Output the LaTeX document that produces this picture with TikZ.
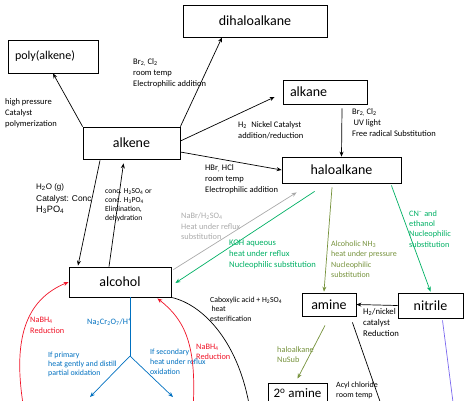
\documentclass[tikz,border=0pt]{standalone}
\usepackage{fontspec}
\setmainfont{Carlito}
\newfontfamily\arialfont{Liberation Sans}
\usetikzlibrary{arrows.meta,calc}
\definecolor{rxngreen}{RGB}{0,176,100}
\definecolor{rxnolive}{RGB}{118,146,60}
\definecolor{rxngrey}{RGB}{170,170,170}
\definecolor{rxnred}{RGB}{240,20,40}
\definecolor{rxnblue}{RGB}{0,112,192}
\definecolor{rxnpurple}{RGB}{123,104,238}
\tikzset{
  box/.style={draw, line width=0.8pt, inner sep=0pt, font=\fontsize{14}{16}\selectfont},
  lbl/.style={anchor=north west, inner sep=0pt, align=left, font=\fontsize{8.5}{11}\selectfont},
  link/.style={line width=0.7pt},
  conn/.style={link, -{Stealth[length=5pt,width=4pt]}}
}
\begin{document}
\begin{tikzpicture}[x=1pt,y=-1pt]
  \useasboundingbox (0,0) rectangle (474,400);
  \clip (0,0) rectangle (474,400);
  % compounds
  \draw
    (53,56.5) node[box, minimum width=90pt, minimum height=33pt, text width=76pt, inner xsep=7pt, align=left, font=\fontsize{12}{14}\selectfont] (poly){poly(alkene)}
    (255,21) node[box, minimum width=144pt, minimum height=32pt] (dihalo){dihaloalkane}
    (325,92) node[box, minimum width=84pt, minimum height=24pt, text width=70pt, inner xsep=7pt, align=left] (alkane){alkane}
    (131.5,143) node[box, minimum width=97pt, minimum height=32pt] (alkene){alkene}
    (341.5,170) node[box, minimum width=119pt, minimum height=26pt] (halo){haloalkane}
    (120,282) node[box, minimum width=102pt, minimum height=30pt] (alcohol){alcohol}
    (329,304.5) node[box, minimum width=54pt, minimum height=23pt] (amine){amine}
    (430.5,305.5) node[box, minimum width=65pt, minimum height=25pt] (nitrile){nitrile}
    (297.5,393) node[box, minimum width=59pt, minimum height=20pt, font=\fontsize{13}{15}\selectfont] (amine2){2\textsuperscript{o} amine};
  % free ends
  \coordinate (acylend) at (383,410);
  \coordinate (purpend) at (454,410);
  \coordinate (esterend) at (250,410);
  \coordinate (redleft) at (24,410);
  \coordinate (redright) at (193,410);
  \coordinate (fork) at (130,356);
  \coordinate (aldehyde) at (90,397);
  \coordinate (ketone) at (173,397);
  % conditions
  \node[lbl] (lpoly) at (5,98) {high pressure\\Catalyst\\polymerization};
  \node[lbl] (ldihalo) at (133,58.5) {Br\textsubscript{2,} Cl\textsubscript{2}\\room temp\\Electrophilic addition};
  \node[lbl, font=\fontsize{8.5}{10.5}\selectfont] (lalkane) at (238,121.5) {H\textsubscript{2}\enspace Nickel Catalyst\\addition/reduction};
  \node[lbl] (luv) at (352,108.5) {Br\textsubscript{2,} Cl\textsubscript{2}\\\,UV light\\Free radical Substitution};
  \node[lbl] (lhbr) at (205,164.5) {HBr\textsubscript{,} HCl\\room temp\\Electrophilic addition};
  \node[lbl, font=\arialfont\fontsize{8}{11.5}\selectfont] (lhydr) at (36,183.5) {H\textsubscript{2}O (g)\\{\fontsize{8.4}{11.5}\selectfont Catalyst: Conc}\\{\fontsize{9.2}{11.5}\selectfont H\textsubscript{3}PO\textsubscript{4}}};
  \node[lbl, font=\fontsize{7.6}{9.2}\selectfont] (ldehyd) at (105,188) {conc. H\textsubscript{2}SO\textsubscript{4} or\\conc. H\textsubscript{3}PO\textsubscript{4}\\Elimination,\\dehydration};
  \node[lbl, text=rxngrey, font=\fontsize{8.3}{10.6}\selectfont] (lnabr) at (181,212.5) {NaBr/H\textsubscript{2}SO\textsubscript{4}\\Heat under reflux\\substitution};
  \node[lbl, text=rxngreen, font=\fontsize{8.6}{11}\selectfont] (lkoh) at (229,239.5) {KOH aqueous\\heat under reflux\\Nucleophilic substitution};
  \node[lbl, text=rxnolive, font=\fontsize{8}{10.4}\selectfont] (lnh3) at (331,240.5) {Alcoholic NH\textsubscript{3}\\heat under pressure\\Nucleophilic\\substitution};
  \node[lbl, text=rxngreen, font=\fontsize{8.3}{10.2}\selectfont] (lcn) at (409,210.5) {CN\textsuperscript{--} and\\ethanol\\Nucleophilic\\substitution};
  \node[lbl, font=\fontsize{8.7}{11}\selectfont] (lnick) at (363,308.5) {H\textsubscript{2}/nickel\\catalyst\\Reduction};
  \node[lbl, text=rxnolive, font=\fontsize{8.3}{10.5}\selectfont] (lnusub) at (277,346.5) {haloalkane\\NuSub};
  \node[lbl, font=\fontsize{8}{10.5}\selectfont] (lacyl) at (336,381.5) {Acyl chloride\\room temp};
  \node[lbl, font=\fontsize{7.8}{9.8}\selectfont] (lester) at (210,296.5) {Caboxylic acid + H\textsubscript{2}SO\textsubscript{4}\\\,heat\\esterification};
  \node[lbl, text=rxnred, font=\fontsize{8.3}{11}\selectfont] (lredl) at (30,316.5) {NaBH\textsubscript{4}\\Reduction};
  \node[lbl, text=rxnred, font=\fontsize{8.3}{10.5}\selectfont] (lredr) at (196,343.5) {NaBH\textsubscript{4}\\Reduction};
  \node[lbl, text=rxnblue, font=\fontsize{8.3}{10}\selectfont] (lcr) at (87,318.5) {Na\textsubscript{2}Cr\textsubscript{2}O\textsubscript{7}/H\textsuperscript{+}};
  \node[lbl, text=rxnblue, font=\fontsize{7.9}{9.3}\selectfont] (lprim) at (48,351.5) {If primary\\heat gently and distill\\partial oxidation};
  \node[lbl, text=rxnblue, font=\fontsize{7.9}{10}\selectfont] (lsec) at (150,348.5) {If secondary\\heat under reflux\\oxidation};
  % reactions
  \begin{scope}[conn]
    \draw (alkene.north west) -- (poly.south);
    \draw (alkene.north east) -- ($(dihalo.south)+(-33,0)$);
    \draw ($(alkene.east)+(0,-2)$) -- ($(alkane.west)+(-8,5)$);
    \draw ($(alkane.south)+(17,4)$) -- (halo.north);
    \draw ($(alkene.east)+(0,9)$) -- (halo.west);
    \draw ($(alkene.south)+(-31.5,1)$) -- ($(alcohol.north)+(-42,-1)$);
    \draw ($(alcohol.north)+(-11,0)$) -- ($(alkene.south)+(-8,4)$);
    \draw[rxngrey] ($(alcohol.north east)+(2,3)$) -- ($(halo.south west)+(15,9)$);
    \draw[rxngreen] ($(halo.south west)+(33,8)$) -- ($(alcohol.east)+(4,1)$);
    \draw[rxnolive] ($(halo.south)+(-9.5,4)$) -- ($(amine.north)+(-5,-1)$);
    \draw[rxngreen] ($(halo.south east)+(-10,2)$) -- ($(nitrile.north)+(0,-1)$);
    \draw (nitrile.west) -- (amine.east);
    \draw[rxnolive] ($(amine.south)+(-4,9)$) -- ($(amine2.north)+(0,-4)$);
    \draw[rxnred] (redleft) .. controls (12,340) and (25,300) .. (alcohol.west);
    \draw[rxnred] (redright) .. controls (197,345) and (185,320) .. ($(alcohol.south east)+(-14,1)$);
    \draw[rxnblue] (fork) -- (aldehyde);
    \draw[rxnblue] (fork) -- (ketone);
  \end{scope}
  \begin{scope}[link]
    \draw ($(amine.south east)+(-4,6)$) -- (acylend);
    \draw[rxnpurple] ($(nitrile.south)+(12,2)$) -- (purpend);
    \draw (alcohol.south east) .. controls (205,305) and (240,345) .. (esterend);
    \draw[rxnblue] ($(alcohol.south)+(10,0)$) -- (fork);
  \end{scope}
\end{tikzpicture}
\end{document}
